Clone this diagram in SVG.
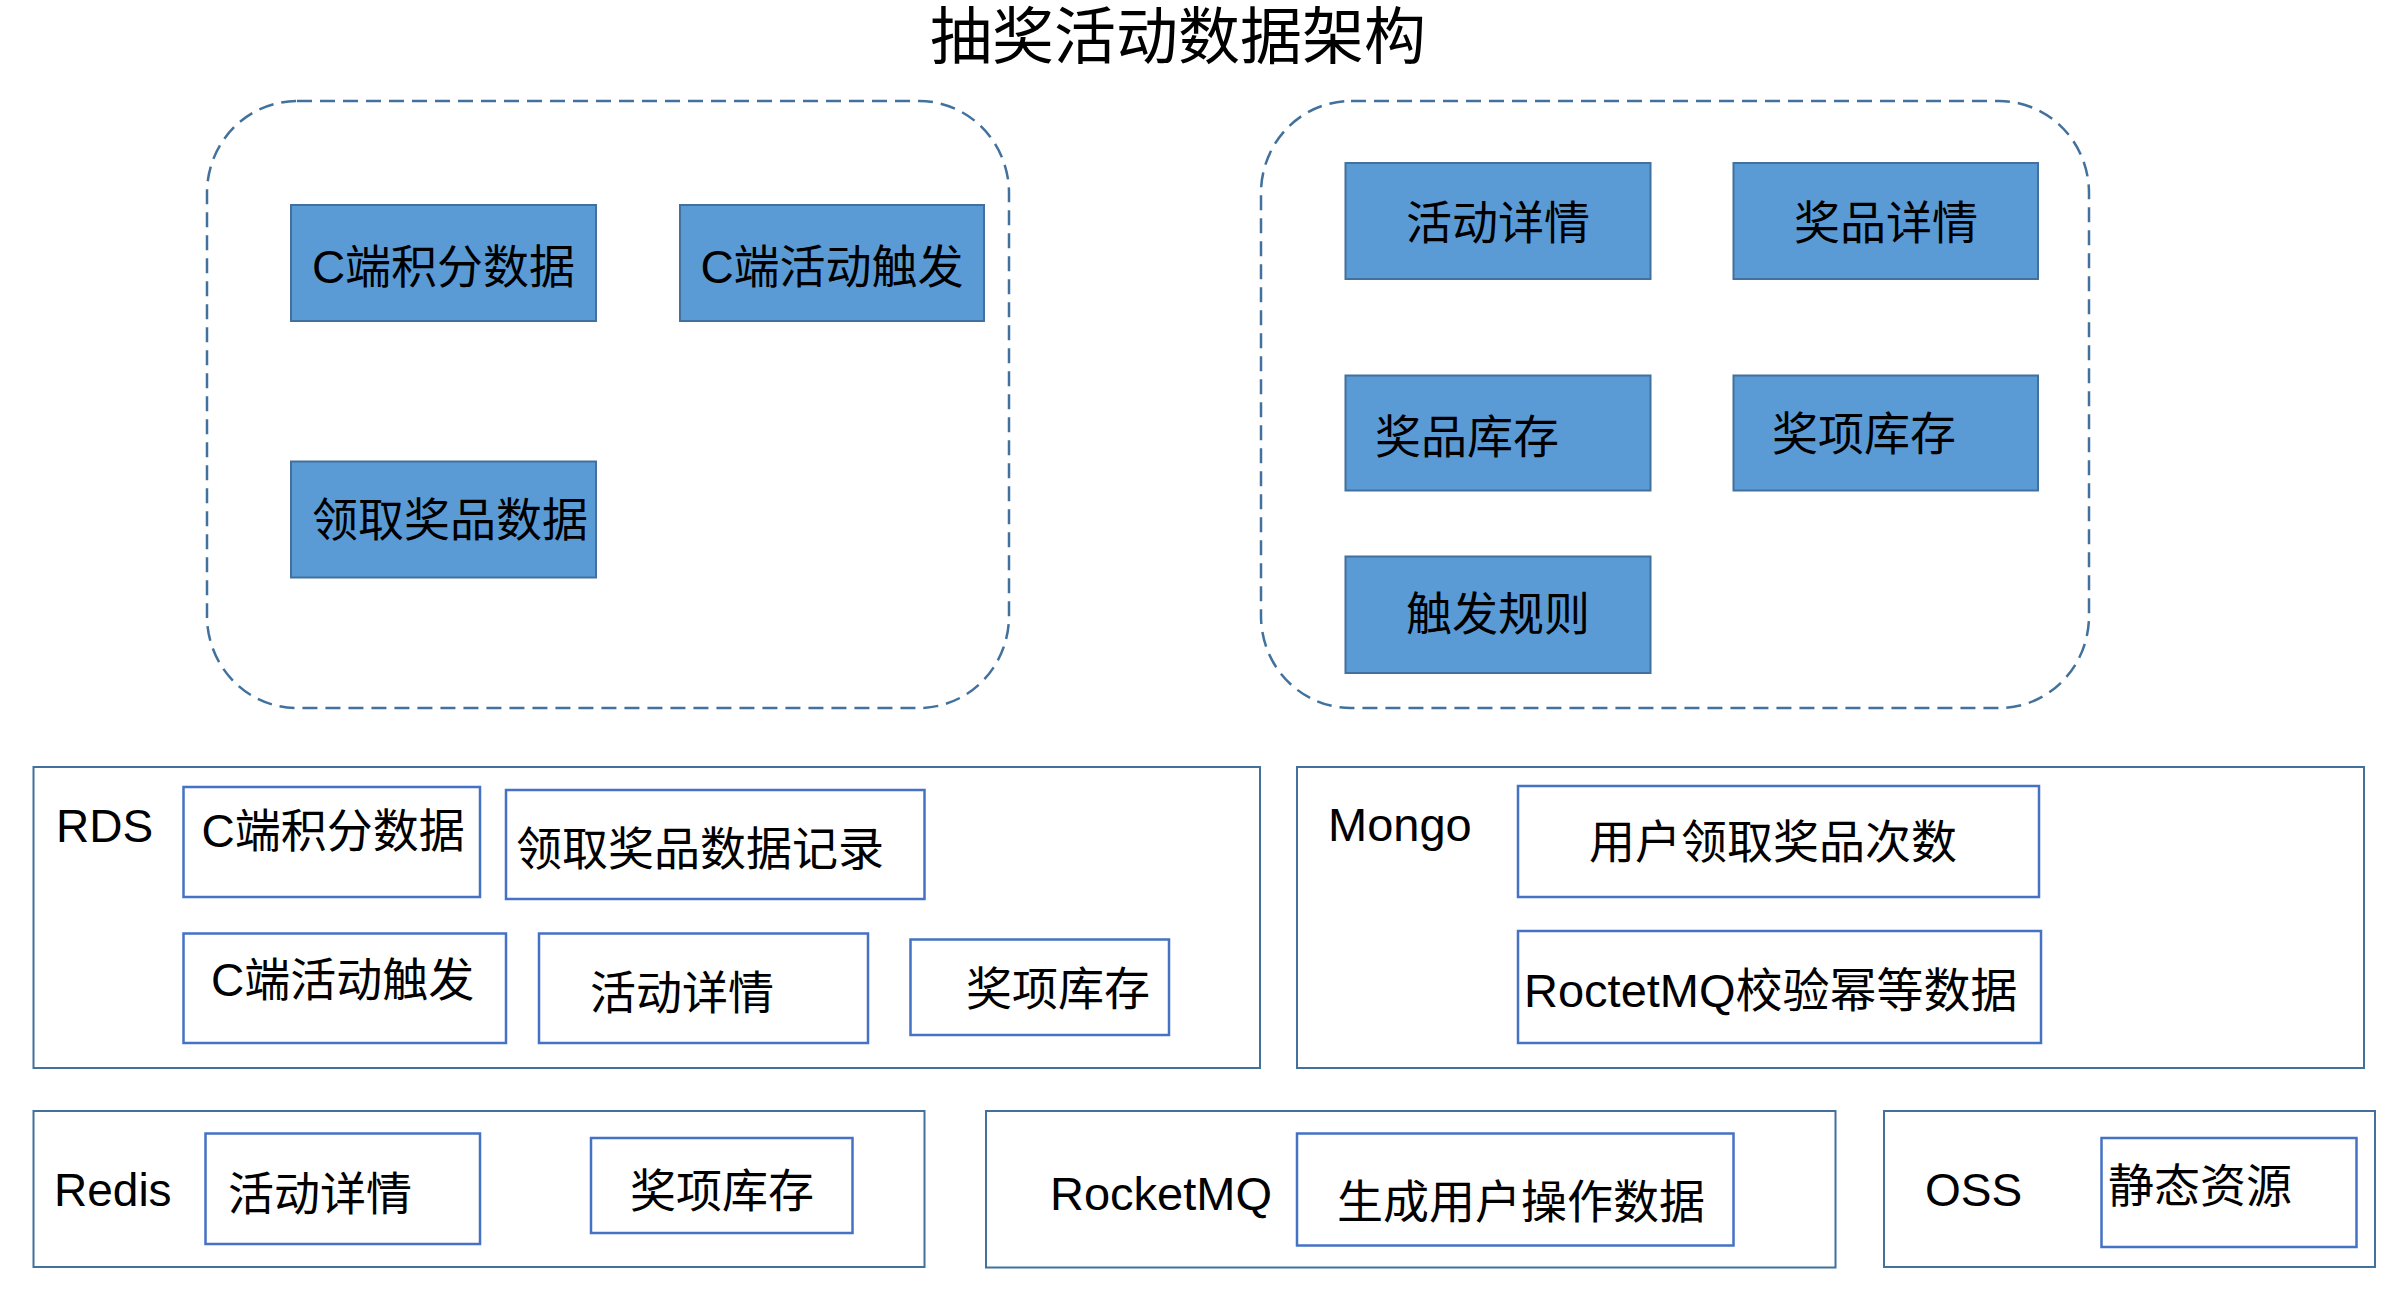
<svg xmlns="http://www.w3.org/2000/svg" width="2394" height="1302" viewBox="0 0 2394 1302">
<style>
text{font-family:"Liberation Sans","Noto Sans CJK SC",sans-serif;fill:#000;font-size:46px}
.title{font-size:62px}
.l47{font-size:47px}
.grp{fill:none;stroke:#41719C;stroke-width:2.5;stroke-dasharray:15 8}
.blue{fill:#5B9BD5;stroke:#41719C;stroke-width:2}
.outer{fill:#fff;stroke:#41719C;stroke-width:2}
.inner{fill:#fff;stroke:#4472C4;stroke-width:2.5}
.c{text-anchor:middle}
</style>
<rect width="2394" height="1302" fill="#fff"/>
<text class="title c" x="1178" y="59">抽奖活动数据架构</text>

<g id="group-c">
<rect class="grp" x="207" y="101" width="802" height="607" rx="90" ry="92"/>
</g>
<g id="group-activity">
<rect class="grp" x="1261" y="101" width="828" height="607" rx="90" ry="92"/>
</g>

<g id="node-c-points">
<rect class="blue" x="291" y="205" width="305" height="116"/>
<text class="c" x="443.5" y="283">C端积分数据</text>
</g>
<g id="node-c-trigger">
<rect class="blue" x="680" y="205" width="304" height="116"/>
<text class="c" x="832" y="283">C端活动触发</text>
</g>
<g id="node-prize-claim">
<rect class="blue" x="291" y="461.5" width="305" height="116"/>
<text x="312" y="536">领取奖品数据</text>
</g>
<g id="node-activity-detail">
<rect class="blue" x="1345.5" y="163" width="305" height="116"/>
<text class="c" x="1498" y="239">活动详情</text>
</g>
<g id="node-prize-detail">
<rect class="blue" x="1733.5" y="163" width="304.5" height="116"/>
<text class="c" x="1886" y="239">奖品详情</text>
</g>
<g id="node-prize-stock">
<rect class="blue" x="1345.5" y="375.5" width="305" height="115"/>
<text x="1375" y="453">奖品库存</text>
</g>
<g id="node-item-stock">
<rect class="blue" x="1733.5" y="375.5" width="304.5" height="115"/>
<text x="1772" y="450">奖项库存</text>
</g>
<g id="node-trigger-rule">
<rect class="blue" x="1345.5" y="556.5" width="305" height="116.5"/>
<text class="c" x="1498" y="630">触发规则</text>
</g>

<g id="node-rds">
<rect class="outer" x="33.5" y="767" width="1226.5" height="301"/>
<text x="56" y="842">RDS</text>
<rect class="inner" x="183.5" y="787" width="296.5" height="110"/>
<text x="201.5" y="847">C端积分数据</text>
<rect class="inner" x="506" y="790" width="418.5" height="109"/>
<text x="516" y="865">领取奖品数据记录</text>
<rect class="inner" x="183.5" y="933.5" width="322.5" height="109.5"/>
<text x="211" y="996">C端活动触发</text>
<rect class="inner" x="539" y="933.5" width="329" height="109.5"/>
<text x="590" y="1009">活动详情</text>
<rect class="inner" x="910.5" y="939.5" width="258.5" height="95.5"/>
<text x="966" y="1005">奖项库存</text>
</g>

<g id="node-mongo">
<rect class="outer" x="1297" y="767" width="1067" height="301"/>
<text class="l47" x="1328" y="841">Mongo</text>
<rect class="inner" x="1518" y="786" width="521" height="111"/>
<text x="1589" y="858">用户领取奖品次数</text>
<rect class="inner" x="1518" y="931" width="523" height="112"/>
<text class="l47" x="1524" y="1007">RoctetMQ校验幂等数据</text>
</g>

<g id="node-redis">
<rect class="outer" x="33.5" y="1111" width="891" height="156"/>
<text x="54" y="1206">Redis</text>
<rect class="inner" x="205.5" y="1133.5" width="274.5" height="110.5"/>
<text x="228" y="1210">活动详情</text>
<rect class="inner" x="591" y="1138" width="261.5" height="95"/>
<text x="630" y="1207">奖项库存</text>
</g>

<g id="node-rocketmq">
<rect class="outer" x="986" y="1111" width="849.5" height="156.5"/>
<text class="l47" x="1050" y="1210">RocketMQ</text>
<rect class="inner" x="1297" y="1133.5" width="436.5" height="112"/>
<text x="1337" y="1218">生成用户操作数据</text>
</g>

<g id="node-oss">
<rect class="outer" x="1884" y="1111" width="491" height="156"/>
<text x="1925" y="1206">OSS</text>
<rect class="inner" x="2101.5" y="1138" width="255" height="109"/>
<text x="2108" y="1202">静态资源</text>
</g>

<g id="connectors"></g>
</svg>
